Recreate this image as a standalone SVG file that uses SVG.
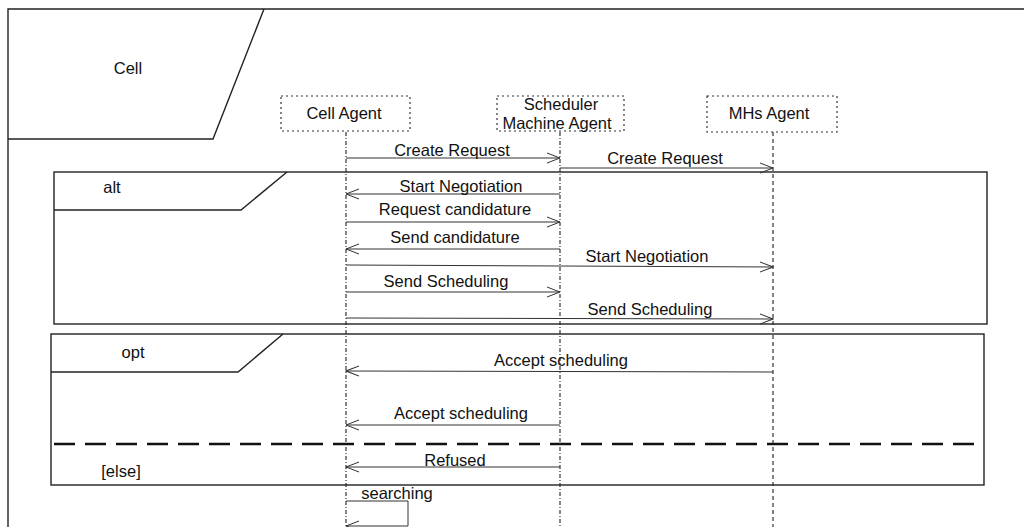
<svg xmlns="http://www.w3.org/2000/svg" width="1024" height="527" viewBox="0 0 1024 527">
<defs>
<style>
text{font-family:"Liberation Sans",Arial,sans-serif;font-size:16.5px;fill:#111}
.frame{fill:none;stroke:#222;stroke-width:1.4}
.box{fill:#fff;stroke:#333;stroke-width:1.2;stroke-dasharray:2 3}
.life{stroke:#222;stroke-width:1.1;stroke-dasharray:4 2 1 2;fill:none}
.msg{stroke:#333;stroke-width:1;fill:none;marker-end:url(#ah)}
</style>
<marker id="ah" markerWidth="14" markerHeight="12" refX="13" refY="6" orient="auto" markerUnits="userSpaceOnUse">
<path d="M0,1 L13,6 L0,11" fill="none" stroke="#333" stroke-width="1"/>
</marker>
</defs>
<rect width="1024" height="527" fill="#fff"/>
<g id="outer-frame">
<path class="frame" d="M8,535 L8,9 L1030,9"/>
<path class="frame" d="M8,139 L213,139 L264,9"/>
<text x="128" y="74" text-anchor="middle">Cell</text>
</g>
<g id="alt-frame">
<rect class="frame" x="54" y="172" width="933" height="152"/>
<path class="frame" d="M54,210 L241,210 L287,172"/>
<text x="112" y="193" text-anchor="middle">alt</text>
</g>
<g id="opt-frame">
<rect class="frame" x="51" y="334" width="933" height="151"/>
<path class="frame" d="M51,372 L238,372 L283,334"/>
<text x="133" y="358" text-anchor="middle">opt</text>
<line x1="54" y1="444" x2="977" y2="444" stroke="#111" stroke-width="2.5" stroke-dasharray="21 10"/>
<text x="121" y="477" text-anchor="middle">[else]</text>
</g>
<g id="cell-agent">
<line class="life" x1="346" y1="132" x2="346" y2="527"/>
<rect class="box" x="281" y="96" width="129" height="35"/>
<text x="344" y="119" text-anchor="middle">Cell Agent</text>
</g>
<g id="scheduler-machine-agent">
<line class="life" x1="560" y1="132" x2="560" y2="527"/>
<rect class="box" x="497" y="96" width="127" height="35"/>
<text x="561" y="110" text-anchor="middle">Scheduler</text>
<text x="557" y="129" text-anchor="middle">Machine Agent</text>
</g>
<g id="mhs-agent">
<line class="life" x1="773" y1="132" x2="773" y2="527" style="stroke-dasharray:4 3"/>
<rect class="box" x="707" y="96" width="130" height="36"/>
<text x="769" y="119" text-anchor="middle">MHs Agent</text>
</g>
<g id="connectors">
<line class="msg" x1="346" y1="158" x2="560" y2="158"/>
<text x="452" y="156" text-anchor="middle">Create Request</text>
<line class="msg" x1="560" y1="168" x2="773" y2="168"/>
<text x="665" y="164" text-anchor="middle">Create Request</text>
<line class="msg" x1="560" y1="194" x2="346" y2="194"/>
<text x="461" y="192" text-anchor="middle">Start Negotiation</text>
<line class="msg" x1="346" y1="222" x2="560" y2="222"/>
<text x="455" y="215" text-anchor="middle">Request candidature</text>
<line class="msg" x1="560" y1="249" x2="346" y2="249"/>
<text x="455" y="243" text-anchor="middle">Send candidature</text>
<line class="msg" x1="346" y1="265" x2="773" y2="267"/>
<text x="647" y="262" text-anchor="middle">Start Negotiation</text>
<line class="msg" x1="346" y1="292" x2="560" y2="292"/>
<text x="446" y="287" text-anchor="middle">Send Scheduling</text>
<line class="msg" x1="346" y1="318" x2="773" y2="319"/>
<text x="650" y="315" text-anchor="middle">Send Scheduling</text>
<line class="msg" x1="773" y1="372" x2="346" y2="371"/>
<text x="561" y="366" text-anchor="middle">Accept scheduling</text>
<line class="msg" x1="560" y1="425" x2="346" y2="425"/>
<text x="461" y="419" text-anchor="middle">Accept scheduling</text>
<line class="msg" x1="560" y1="467" x2="346" y2="467"/>
<text x="455" y="466" text-anchor="middle">Refused</text>
<path class="msg" d="M346,501 L408,501 L408,526 L346,526"/>
<text x="397" y="499" text-anchor="middle">searching</text>
</g>
</svg>
